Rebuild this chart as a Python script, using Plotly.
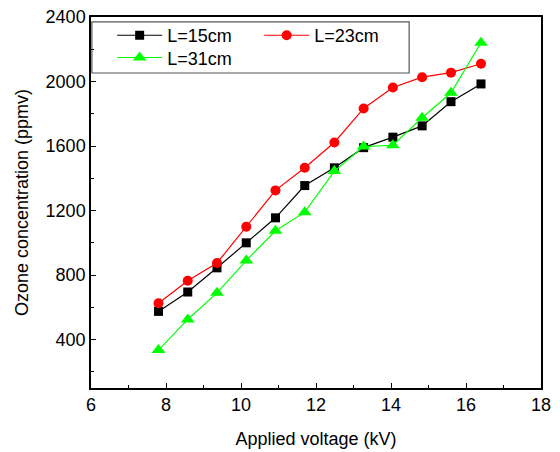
import plotly.graph_objects as go

voltage = [7.8, 8.58, 9.36, 10.14, 10.92, 11.7, 12.49, 13.27, 14.05, 14.83, 15.6, 16.4]
l15 = [575, 695, 845, 1000, 1155, 1355, 1465, 1590, 1655, 1725, 1875, 1985]
l23 = [625, 765, 875, 1100, 1325, 1465, 1622, 1833, 1963, 2027, 2055, 2110]
l31 = [335, 525, 690, 890, 1075, 1190, 1445, 1597, 1605, 1775, 1930, 2240]

series = [
    ("L=15cm", l15, "#000000", "square", 9, "legend"),
    ("L=23cm", l23, "#ff0000", "circle", 10, "legend"),
    ("L=31cm", l31, "#00ff00", "triangle-up", 12, "legend2"),
]

fig = go.Figure()
for name, ys, col, sym, sz, lg in series:
    fig.add_trace(go.Scatter(
        x=voltage, y=ys, name=name, mode="lines+markers",
        line=dict(color=col, width=1.2),
        marker=dict(symbol=sym, size=sz, color=col, line=dict(width=0)),
        legend=lg,
    ))

font = "Liberation Sans, Arial, sans-serif"
axis_common = dict(
    showline=True, linecolor="black", linewidth=1.5, mirror=True,
    ticks="inside", ticklen=5, tickwidth=1.2, tickcolor="black",
    showgrid=False, zeroline=False, automargin=False,
    tickfont=dict(family=font, size=18, color="black"),
)
leg_common = dict(
    orientation="h", xanchor="left", yanchor="middle",
    bgcolor="rgba(0,0,0,0)", borderwidth=0,
    font=dict(family=font, size=18, color="black"),
    entrywidth=87, entrywidthmode="pixels", itemwidth=45,
)
fig.update_layout(
    width=560, height=452,
    margin=dict(l=91, r=19, t=17, b=64),
    paper_bgcolor="white", plot_bgcolor="white",
    font=dict(family=font, color="black"),
    xaxis=dict(range=[6, 18], dtick=2, tick0=0,
               minor=dict(dtick=1, ticks="inside", ticklen=3, tickcolor="black"),
               title=dict(text="Applied voltage (kV)", font=dict(family=font, size=18), standoff=18),
               **axis_common),
    yaxis=dict(range=[100, 2400], dtick=400, tick0=0,
               minor=dict(dtick=200, ticks="inside", ticklen=3, tickcolor="black"),
               title=dict(text="Ozone concentration (ppmv)", font=dict(family=font, size=18), standoff=12),
               **axis_common),
    legend=dict(x=0.047, y=0.95, **leg_common),
    legend2=dict(x=0.047, y=0.89, **leg_common),
    shapes=[dict(type="rect", xref="paper", yref="paper",
                 x0=0.002, x1=0.707, y0=0.849, y1=0.987,
                 line=dict(color="#555555", width=1.2), fillcolor="white", layer="below")],
)

fig.write_html("out.html")
